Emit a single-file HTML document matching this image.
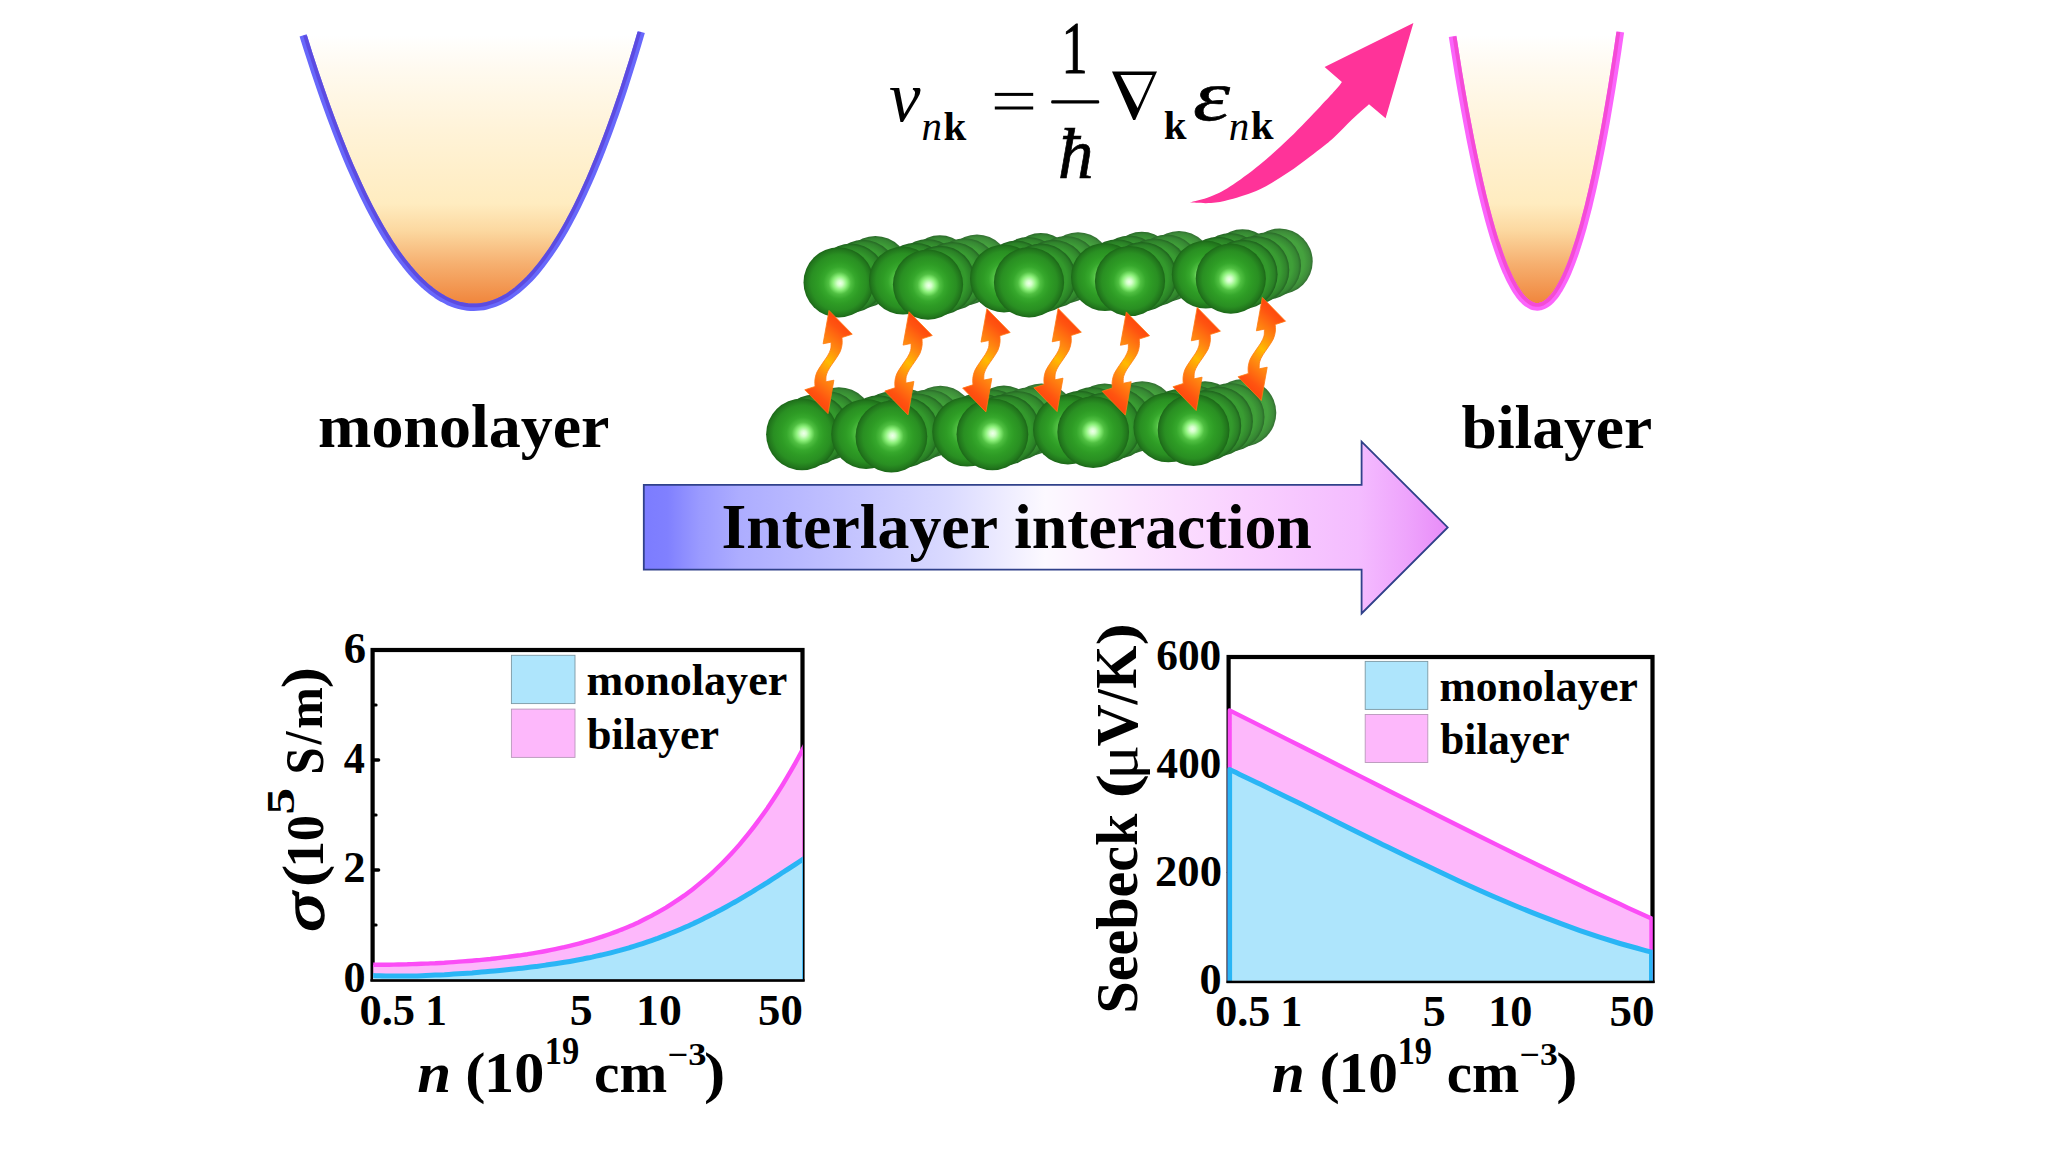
<!DOCTYPE html>
<html><head><meta charset="utf-8"><title>Interlayer interaction</title>
<style>
html,body{margin:0;padding:0;background:#fff;}
body{width:2048px;height:1152px;overflow:hidden;font-family:"Liberation Serif",serif;}
svg{display:block;position:absolute;left:0;top:0;}
text{font-family:"Liberation Serif",serif;fill:#000;font-kerning:none;}
.b{font-weight:bold;}
.i{font-style:italic;}
</style></head><body>
<svg width="2048" height="1152" viewBox="0 0 2048 1152">
<defs>
<linearGradient id="gband" x1="0" y1="35" x2="0" y2="307" gradientUnits="userSpaceOnUse">
<stop offset="0" stop-color="#ffffff"/>
<stop offset="0.12" stop-color="#fffaf0"/>
<stop offset="0.35" stop-color="#fff3d8"/>
<stop offset="0.62" stop-color="#ffecc0"/>
<stop offset="0.72" stop-color="#fcd8a0"/>
<stop offset="0.84" stop-color="#f6b070"/>
<stop offset="1" stop-color="#f08238"/>
</linearGradient>
<linearGradient id="gbig" x1="643" y1="0" x2="1447" y2="0" gradientUnits="userSpaceOnUse">
<stop offset="0" stop-color="#7c7cff"/>
<stop offset="0.03" stop-color="#8080ff"/>
<stop offset="0.07" stop-color="#9a9aff"/>
<stop offset="0.12" stop-color="#adadff"/>
<stop offset="0.25" stop-color="#c2c2ff"/>
<stop offset="0.38" stop-color="#dadaff"/>
<stop offset="0.5" stop-color="#fcf9ff"/>
<stop offset="0.62" stop-color="#fce4ff"/>
<stop offset="0.75" stop-color="#f9d0ff"/>
<stop offset="0.89" stop-color="#f4bcff"/>
<stop offset="0.95" stop-color="#eea4fc"/>
<stop offset="1" stop-color="#e88cf8"/>
</linearGradient>
<radialGradient id="gsph" cx="0.5" cy="0.5" r="0.5" fx="0.53" fy="0.51">
<stop offset="0" stop-color="#f0ffec"/>
<stop offset="0.08" stop-color="#d4ffca"/>
<stop offset="0.20" stop-color="#8cf07a"/>
<stop offset="0.32" stop-color="#50c042"/>
<stop offset="0.46" stop-color="#36a82c"/>
<stop offset="0.60" stop-color="#2e9c25"/>
<stop offset="0.80" stop-color="#298f22"/>
<stop offset="0.93" stop-color="#22781d"/>
<stop offset="1" stop-color="#1c6718"/>
</radialGradient>
<radialGradient id="gsph2" cx="0.5" cy="0.5" r="0.5" fx="0.535" fy="0.488">
<stop offset="0" stop-color="#f0ffec"/>
<stop offset="0.08" stop-color="#d4ffca"/>
<stop offset="0.20" stop-color="#8cf07a"/>
<stop offset="0.32" stop-color="#50c042"/>
<stop offset="0.46" stop-color="#36a82c"/>
<stop offset="0.60" stop-color="#2e9c25"/>
<stop offset="0.80" stop-color="#298f22"/>
<stop offset="0.93" stop-color="#22781d"/>
<stop offset="1" stop-color="#1c6718"/>
</radialGradient>
<linearGradient id="gflame" x1="-34" y1="40" x2="34" y2="-40" gradientUnits="userSpaceOnUse">
<stop offset="0" stop-color="#ff3208"/>
<stop offset="0.2" stop-color="#ff5410"/>
<stop offset="0.37" stop-color="#ff8a10"/>
<stop offset="0.5" stop-color="#ffba00"/>
<stop offset="0.63" stop-color="#ff8a10"/>
<stop offset="0.8" stop-color="#ff5410"/>
<stop offset="1" stop-color="#ff3208"/>
</linearGradient>
</defs>

<g id="bands">
<clipPath id="cpl"><path d="M303.1,35.4 C304.1,38.6 307.1,48.2 309.1,54.5 C311.1,60.7 313.1,66.8 315.1,72.9 C317.1,78.9 319.1,84.8 321.1,90.5 C323.1,96.3 325.1,102.0 327.1,107.5 C329.1,113.1 331.1,118.5 333.1,123.8 C335.1,129.2 337.1,134.4 339.1,139.4 C341.1,144.5 343.1,149.5 345.1,154.4 C347.1,159.2 349.1,164.0 351.1,168.6 C353.2,173.2 355.2,177.7 357.2,182.1 C359.2,186.5 361.2,190.8 363.2,194.9 C365.3,199.1 367.3,203.1 369.3,207.1 C371.3,211.0 373.4,214.8 375.4,218.5 C377.4,222.2 379.4,225.8 381.5,229.3 C383.5,232.7 385.5,236.1 387.6,239.3 C389.6,242.6 391.6,245.7 393.7,248.7 C395.7,251.7 397.7,254.6 399.8,257.4 C401.8,260.1 403.8,262.8 405.9,265.3 C407.9,267.9 410.0,270.3 412.0,272.6 C414.1,274.9 416.1,277.1 418.1,279.2 C420.2,281.3 422.2,283.3 424.3,285.1 C426.3,287.0 428.4,288.7 430.5,290.3 C432.5,291.9 434.6,293.4 436.6,294.8 C438.7,296.2 440.7,297.5 442.8,298.6 C444.9,299.8 446.9,300.8 449.0,301.8 C451.0,302.7 453.1,303.5 455.2,304.2 C457.2,304.9 459.3,305.5 461.4,305.9 C463.4,306.4 465.5,306.7 467.6,307.0 C469.7,307.2 471.7,307.3 473.8,307.3 C475.9,307.3 478.0,307.2 480.1,306.9 C482.1,306.7 484.2,306.4 486.3,305.9 C488.4,305.4 490.4,304.8 492.5,304.1 C494.6,303.4 496.6,302.6 498.7,301.7 C500.8,300.7 502.8,299.7 504.9,298.5 C506.9,297.4 509.0,296.1 511.0,294.7 C513.1,293.3 515.1,291.7 517.2,290.1 C519.2,288.5 521.2,286.7 523.3,284.8 C525.3,283.0 527.3,281.0 529.4,278.9 C531.4,276.8 533.4,274.5 535.4,272.2 C537.4,269.8 539.5,267.4 541.5,264.8 C543.5,262.2 545.5,259.5 547.5,256.7 C549.5,253.9 551.5,251.0 553.5,248.0 C555.5,244.9 557.5,241.8 559.5,238.5 C561.5,235.2 563.5,231.8 565.5,228.3 C567.5,224.8 569.5,221.2 571.4,217.4 C573.4,213.7 575.4,209.8 577.4,205.8 C579.3,201.8 581.3,197.7 583.3,193.5 C585.2,189.3 587.2,185.0 589.2,180.5 C591.1,176.1 593.1,171.5 595.0,166.8 C597.0,162.2 598.9,157.4 600.9,152.4 C602.8,147.5 604.8,142.5 606.7,137.3 C608.7,132.2 610.6,126.9 612.5,121.5 C614.5,116.2 616.4,110.7 618.3,105.0 C620.2,99.4 622.2,93.7 624.1,87.8 C626.0,82.0 627.9,76.0 629.8,69.9 C631.8,63.8 633.7,57.6 635.6,51.3 C637.5,45.0 640.3,35.2 641.3,32.0 Z"/></clipPath><clipPath id="cpr"><path d="M1452.6,36.4 C1453.1,39.6 1454.6,49.2 1455.6,55.4 C1456.6,61.6 1457.6,67.7 1458.5,73.6 C1459.5,79.6 1460.5,85.5 1461.5,91.2 C1462.5,97.0 1463.5,102.6 1464.5,108.1 C1465.5,113.7 1466.5,119.1 1467.5,124.3 C1468.5,129.6 1469.5,134.8 1470.5,139.9 C1471.5,144.9 1472.5,149.9 1473.5,154.7 C1474.5,159.5 1475.5,164.2 1476.5,168.8 C1477.5,173.4 1478.5,177.9 1479.5,182.3 C1480.5,186.7 1481.5,190.9 1482.5,195.1 C1483.5,199.2 1484.5,203.2 1485.5,207.1 C1486.5,211.0 1487.5,214.8 1488.5,218.5 C1489.5,222.2 1490.5,225.7 1491.5,229.2 C1492.5,232.6 1493.5,236.0 1494.5,239.2 C1495.6,242.4 1496.6,245.5 1497.6,248.5 C1498.6,251.5 1499.6,254.4 1500.6,257.1 C1501.6,259.9 1502.6,262.5 1503.6,265.1 C1504.6,267.6 1505.7,270.0 1506.7,272.3 C1507.7,274.6 1508.7,276.8 1509.7,278.9 C1510.7,280.9 1511.8,282.9 1512.8,284.7 C1513.8,286.6 1514.8,288.3 1515.8,289.9 C1516.8,291.5 1517.9,293.0 1518.9,294.4 C1519.9,295.8 1520.9,297.0 1521.9,298.2 C1523.0,299.3 1524.0,300.4 1525.0,301.3 C1526.0,302.2 1527.0,303.0 1528.1,303.7 C1529.1,304.4 1530.1,305.0 1531.1,305.4 C1532.2,305.9 1533.2,306.2 1534.2,306.5 C1535.2,306.7 1536.3,306.8 1537.3,306.8 C1538.3,306.8 1539.4,306.7 1540.4,306.4 C1541.4,306.2 1542.5,305.9 1543.5,305.4 C1544.5,304.9 1545.6,304.3 1546.6,303.6 C1547.6,302.9 1548.6,302.1 1549.7,301.2 C1550.7,300.3 1551.7,299.2 1552.7,298.0 C1553.7,296.9 1554.8,295.6 1555.8,294.2 C1556.8,292.8 1557.8,291.3 1558.8,289.6 C1559.8,288.0 1560.8,286.2 1561.8,284.4 C1562.8,282.5 1563.9,280.5 1564.9,278.4 C1565.9,276.3 1566.9,274.1 1567.9,271.7 C1568.9,269.4 1569.9,266.9 1570.9,264.4 C1571.9,261.8 1572.9,259.1 1573.9,256.3 C1574.9,253.5 1575.8,250.6 1576.8,247.5 C1577.8,244.5 1578.8,241.3 1579.8,238.1 C1580.8,234.8 1581.8,231.4 1582.8,227.9 C1583.8,224.4 1584.7,220.8 1585.7,217.0 C1586.7,213.3 1587.7,209.4 1588.7,205.5 C1589.6,201.5 1590.6,197.4 1591.6,193.2 C1592.6,189.0 1593.5,184.7 1594.5,180.2 C1595.5,175.8 1596.4,171.2 1597.4,166.5 C1598.4,161.9 1599.3,157.1 1600.3,152.2 C1601.3,147.3 1602.2,142.2 1603.2,137.1 C1604.2,131.9 1605.1,126.7 1606.1,121.3 C1607.0,115.9 1608.0,110.4 1608.9,104.8 C1609.9,99.2 1610.8,93.5 1611.8,87.7 C1612.7,81.8 1613.7,75.8 1614.6,69.8 C1615.6,63.7 1616.5,57.5 1617.5,51.2 C1618.4,44.9 1619.8,35.1 1620.3,31.9 Z"/></clipPath>
<path d="M303.1,35.4 C304.1,38.6 307.1,48.2 309.1,54.5 C311.1,60.7 313.1,66.8 315.1,72.9 C317.1,78.9 319.1,84.8 321.1,90.5 C323.1,96.3 325.1,102.0 327.1,107.5 C329.1,113.1 331.1,118.5 333.1,123.8 C335.1,129.2 337.1,134.4 339.1,139.4 C341.1,144.5 343.1,149.5 345.1,154.4 C347.1,159.2 349.1,164.0 351.1,168.6 C353.2,173.2 355.2,177.7 357.2,182.1 C359.2,186.5 361.2,190.8 363.2,194.9 C365.3,199.1 367.3,203.1 369.3,207.1 C371.3,211.0 373.4,214.8 375.4,218.5 C377.4,222.2 379.4,225.8 381.5,229.3 C383.5,232.7 385.5,236.1 387.6,239.3 C389.6,242.6 391.6,245.7 393.7,248.7 C395.7,251.7 397.7,254.6 399.8,257.4 C401.8,260.1 403.8,262.8 405.9,265.3 C407.9,267.9 410.0,270.3 412.0,272.6 C414.1,274.9 416.1,277.1 418.1,279.2 C420.2,281.3 422.2,283.3 424.3,285.1 C426.3,287.0 428.4,288.7 430.5,290.3 C432.5,291.9 434.6,293.4 436.6,294.8 C438.7,296.2 440.7,297.5 442.8,298.6 C444.9,299.8 446.9,300.8 449.0,301.8 C451.0,302.7 453.1,303.5 455.2,304.2 C457.2,304.9 459.3,305.5 461.4,305.9 C463.4,306.4 465.5,306.7 467.6,307.0 C469.7,307.2 471.7,307.3 473.8,307.3 C475.9,307.3 478.0,307.2 480.1,306.9 C482.1,306.7 484.2,306.4 486.3,305.9 C488.4,305.4 490.4,304.8 492.5,304.1 C494.6,303.4 496.6,302.6 498.7,301.7 C500.8,300.7 502.8,299.7 504.9,298.5 C506.9,297.4 509.0,296.1 511.0,294.7 C513.1,293.3 515.1,291.7 517.2,290.1 C519.2,288.5 521.2,286.7 523.3,284.8 C525.3,283.0 527.3,281.0 529.4,278.9 C531.4,276.8 533.4,274.5 535.4,272.2 C537.4,269.8 539.5,267.4 541.5,264.8 C543.5,262.2 545.5,259.5 547.5,256.7 C549.5,253.9 551.5,251.0 553.5,248.0 C555.5,244.9 557.5,241.8 559.5,238.5 C561.5,235.2 563.5,231.8 565.5,228.3 C567.5,224.8 569.5,221.2 571.4,217.4 C573.4,213.7 575.4,209.8 577.4,205.8 C579.3,201.8 581.3,197.7 583.3,193.5 C585.2,189.3 587.2,185.0 589.2,180.5 C591.1,176.1 593.1,171.5 595.0,166.8 C597.0,162.2 598.9,157.4 600.9,152.4 C602.8,147.5 604.8,142.5 606.7,137.3 C608.7,132.2 610.6,126.9 612.5,121.5 C614.5,116.2 616.4,110.7 618.3,105.0 C620.2,99.4 622.2,93.7 624.1,87.8 C626.0,82.0 627.9,76.0 629.8,69.9 C631.8,63.8 633.7,57.6 635.6,51.3 C637.5,45.0 640.3,35.2 641.3,32.0 Z" fill="url(#gband)"/>
<path d="M303.1,35.4 C304.1,38.6 307.1,48.2 309.1,54.5 C311.1,60.7 313.1,66.8 315.1,72.9 C317.1,78.9 319.1,84.8 321.1,90.5 C323.1,96.3 325.1,102.0 327.1,107.5 C329.1,113.1 331.1,118.5 333.1,123.8 C335.1,129.2 337.1,134.4 339.1,139.4 C341.1,144.5 343.1,149.5 345.1,154.4 C347.1,159.2 349.1,164.0 351.1,168.6 C353.2,173.2 355.2,177.7 357.2,182.1 C359.2,186.5 361.2,190.8 363.2,194.9 C365.3,199.1 367.3,203.1 369.3,207.1 C371.3,211.0 373.4,214.8 375.4,218.5 C377.4,222.2 379.4,225.8 381.5,229.3 C383.5,232.7 385.5,236.1 387.6,239.3 C389.6,242.6 391.6,245.7 393.7,248.7 C395.7,251.7 397.7,254.6 399.8,257.4 C401.8,260.1 403.8,262.8 405.9,265.3 C407.9,267.9 410.0,270.3 412.0,272.6 C414.1,274.9 416.1,277.1 418.1,279.2 C420.2,281.3 422.2,283.3 424.3,285.1 C426.3,287.0 428.4,288.7 430.5,290.3 C432.5,291.9 434.6,293.4 436.6,294.8 C438.7,296.2 440.7,297.5 442.8,298.6 C444.9,299.8 446.9,300.8 449.0,301.8 C451.0,302.7 453.1,303.5 455.2,304.2 C457.2,304.9 459.3,305.5 461.4,305.9 C463.4,306.4 465.5,306.7 467.6,307.0 C469.7,307.2 471.7,307.3 473.8,307.3 C475.9,307.3 478.0,307.2 480.1,306.9 C482.1,306.7 484.2,306.4 486.3,305.9 C488.4,305.4 490.4,304.8 492.5,304.1 C494.6,303.4 496.6,302.6 498.7,301.7 C500.8,300.7 502.8,299.7 504.9,298.5 C506.9,297.4 509.0,296.1 511.0,294.7 C513.1,293.3 515.1,291.7 517.2,290.1 C519.2,288.5 521.2,286.7 523.3,284.8 C525.3,283.0 527.3,281.0 529.4,278.9 C531.4,276.8 533.4,274.5 535.4,272.2 C537.4,269.8 539.5,267.4 541.5,264.8 C543.5,262.2 545.5,259.5 547.5,256.7 C549.5,253.9 551.5,251.0 553.5,248.0 C555.5,244.9 557.5,241.8 559.5,238.5 C561.5,235.2 563.5,231.8 565.5,228.3 C567.5,224.8 569.5,221.2 571.4,217.4 C573.4,213.7 575.4,209.8 577.4,205.8 C579.3,201.8 581.3,197.7 583.3,193.5 C585.2,189.3 587.2,185.0 589.2,180.5 C591.1,176.1 593.1,171.5 595.0,166.8 C597.0,162.2 598.9,157.4 600.9,152.4 C602.8,147.5 604.8,142.5 606.7,137.3 C608.7,132.2 610.6,126.9 612.5,121.5 C614.5,116.2 616.4,110.7 618.3,105.0 C620.2,99.4 622.2,93.7 624.1,87.8 C626.0,82.0 627.9,76.0 629.8,69.9 C631.8,63.8 633.7,57.6 635.6,51.3 C637.5,45.0 640.3,35.2 641.3,32.0" fill="none" stroke="#6868fb" stroke-width="7.4" stroke-linejoin="round"/>
<path d="M303.1,35.4 C304.1,38.6 307.1,48.2 309.1,54.5 C311.1,60.7 313.1,66.8 315.1,72.9 C317.1,78.9 319.1,84.8 321.1,90.5 C323.1,96.3 325.1,102.0 327.1,107.5 C329.1,113.1 331.1,118.5 333.1,123.8 C335.1,129.2 337.1,134.4 339.1,139.4 C341.1,144.5 343.1,149.5 345.1,154.4 C347.1,159.2 349.1,164.0 351.1,168.6 C353.2,173.2 355.2,177.7 357.2,182.1 C359.2,186.5 361.2,190.8 363.2,194.9 C365.3,199.1 367.3,203.1 369.3,207.1 C371.3,211.0 373.4,214.8 375.4,218.5 C377.4,222.2 379.4,225.8 381.5,229.3 C383.5,232.7 385.5,236.1 387.6,239.3 C389.6,242.6 391.6,245.7 393.7,248.7 C395.7,251.7 397.7,254.6 399.8,257.4 C401.8,260.1 403.8,262.8 405.9,265.3 C407.9,267.9 410.0,270.3 412.0,272.6 C414.1,274.9 416.1,277.1 418.1,279.2 C420.2,281.3 422.2,283.3 424.3,285.1 C426.3,287.0 428.4,288.7 430.5,290.3 C432.5,291.9 434.6,293.4 436.6,294.8 C438.7,296.2 440.7,297.5 442.8,298.6 C444.9,299.8 446.9,300.8 449.0,301.8 C451.0,302.7 453.1,303.5 455.2,304.2 C457.2,304.9 459.3,305.5 461.4,305.9 C463.4,306.4 465.5,306.7 467.6,307.0 C469.7,307.2 471.7,307.3 473.8,307.3 C475.9,307.3 478.0,307.2 480.1,306.9 C482.1,306.7 484.2,306.4 486.3,305.9 C488.4,305.4 490.4,304.8 492.5,304.1 C494.6,303.4 496.6,302.6 498.7,301.7 C500.8,300.7 502.8,299.7 504.9,298.5 C506.9,297.4 509.0,296.1 511.0,294.7 C513.1,293.3 515.1,291.7 517.2,290.1 C519.2,288.5 521.2,286.7 523.3,284.8 C525.3,283.0 527.3,281.0 529.4,278.9 C531.4,276.8 533.4,274.5 535.4,272.2 C537.4,269.8 539.5,267.4 541.5,264.8 C543.5,262.2 545.5,259.5 547.5,256.7 C549.5,253.9 551.5,251.0 553.5,248.0 C555.5,244.9 557.5,241.8 559.5,238.5 C561.5,235.2 563.5,231.8 565.5,228.3 C567.5,224.8 569.5,221.2 571.4,217.4 C573.4,213.7 575.4,209.8 577.4,205.8 C579.3,201.8 581.3,197.7 583.3,193.5 C585.2,189.3 587.2,185.0 589.2,180.5 C591.1,176.1 593.1,171.5 595.0,166.8 C597.0,162.2 598.9,157.4 600.9,152.4 C602.8,147.5 604.8,142.5 606.7,137.3 C608.7,132.2 610.6,126.9 612.5,121.5 C614.5,116.2 616.4,110.7 618.3,105.0 C620.2,99.4 622.2,93.7 624.1,87.8 C626.0,82.0 627.9,76.0 629.8,69.9 C631.8,63.8 633.7,57.6 635.6,51.3 C637.5,45.0 640.3,35.2 641.3,32.0" fill="none" stroke="#5b47da" stroke-width="7.4" stroke-linejoin="round" clip-path="url(#cpl)" opacity="0.85"/>
<path d="M1452.6,36.4 C1453.1,39.6 1454.6,49.2 1455.6,55.4 C1456.6,61.6 1457.6,67.7 1458.5,73.6 C1459.5,79.6 1460.5,85.5 1461.5,91.2 C1462.5,97.0 1463.5,102.6 1464.5,108.1 C1465.5,113.7 1466.5,119.1 1467.5,124.3 C1468.5,129.6 1469.5,134.8 1470.5,139.9 C1471.5,144.9 1472.5,149.9 1473.5,154.7 C1474.5,159.5 1475.5,164.2 1476.5,168.8 C1477.5,173.4 1478.5,177.9 1479.5,182.3 C1480.5,186.7 1481.5,190.9 1482.5,195.1 C1483.5,199.2 1484.5,203.2 1485.5,207.1 C1486.5,211.0 1487.5,214.8 1488.5,218.5 C1489.5,222.2 1490.5,225.7 1491.5,229.2 C1492.5,232.6 1493.5,236.0 1494.5,239.2 C1495.6,242.4 1496.6,245.5 1497.6,248.5 C1498.6,251.5 1499.6,254.4 1500.6,257.1 C1501.6,259.9 1502.6,262.5 1503.6,265.1 C1504.6,267.6 1505.7,270.0 1506.7,272.3 C1507.7,274.6 1508.7,276.8 1509.7,278.9 C1510.7,280.9 1511.8,282.9 1512.8,284.7 C1513.8,286.6 1514.8,288.3 1515.8,289.9 C1516.8,291.5 1517.9,293.0 1518.9,294.4 C1519.9,295.8 1520.9,297.0 1521.9,298.2 C1523.0,299.3 1524.0,300.4 1525.0,301.3 C1526.0,302.2 1527.0,303.0 1528.1,303.7 C1529.1,304.4 1530.1,305.0 1531.1,305.4 C1532.2,305.9 1533.2,306.2 1534.2,306.5 C1535.2,306.7 1536.3,306.8 1537.3,306.8 C1538.3,306.8 1539.4,306.7 1540.4,306.4 C1541.4,306.2 1542.5,305.9 1543.5,305.4 C1544.5,304.9 1545.6,304.3 1546.6,303.6 C1547.6,302.9 1548.6,302.1 1549.7,301.2 C1550.7,300.3 1551.7,299.2 1552.7,298.0 C1553.7,296.9 1554.8,295.6 1555.8,294.2 C1556.8,292.8 1557.8,291.3 1558.8,289.6 C1559.8,288.0 1560.8,286.2 1561.8,284.4 C1562.8,282.5 1563.9,280.5 1564.9,278.4 C1565.9,276.3 1566.9,274.1 1567.9,271.7 C1568.9,269.4 1569.9,266.9 1570.9,264.4 C1571.9,261.8 1572.9,259.1 1573.9,256.3 C1574.9,253.5 1575.8,250.6 1576.8,247.5 C1577.8,244.5 1578.8,241.3 1579.8,238.1 C1580.8,234.8 1581.8,231.4 1582.8,227.9 C1583.8,224.4 1584.7,220.8 1585.7,217.0 C1586.7,213.3 1587.7,209.4 1588.7,205.5 C1589.6,201.5 1590.6,197.4 1591.6,193.2 C1592.6,189.0 1593.5,184.7 1594.5,180.2 C1595.5,175.8 1596.4,171.2 1597.4,166.5 C1598.4,161.9 1599.3,157.1 1600.3,152.2 C1601.3,147.3 1602.2,142.2 1603.2,137.1 C1604.2,131.9 1605.1,126.7 1606.1,121.3 C1607.0,115.9 1608.0,110.4 1608.9,104.8 C1609.9,99.2 1610.8,93.5 1611.8,87.7 C1612.7,81.8 1613.7,75.8 1614.6,69.8 C1615.6,63.7 1616.5,57.5 1617.5,51.2 C1618.4,44.9 1619.8,35.1 1620.3,31.9 Z" fill="url(#gband)"/>
<path d="M1452.6,36.4 C1453.1,39.6 1454.6,49.2 1455.6,55.4 C1456.6,61.6 1457.6,67.7 1458.5,73.6 C1459.5,79.6 1460.5,85.5 1461.5,91.2 C1462.5,97.0 1463.5,102.6 1464.5,108.1 C1465.5,113.7 1466.5,119.1 1467.5,124.3 C1468.5,129.6 1469.5,134.8 1470.5,139.9 C1471.5,144.9 1472.5,149.9 1473.5,154.7 C1474.5,159.5 1475.5,164.2 1476.5,168.8 C1477.5,173.4 1478.5,177.9 1479.5,182.3 C1480.5,186.7 1481.5,190.9 1482.5,195.1 C1483.5,199.2 1484.5,203.2 1485.5,207.1 C1486.5,211.0 1487.5,214.8 1488.5,218.5 C1489.5,222.2 1490.5,225.7 1491.5,229.2 C1492.5,232.6 1493.5,236.0 1494.5,239.2 C1495.6,242.4 1496.6,245.5 1497.6,248.5 C1498.6,251.5 1499.6,254.4 1500.6,257.1 C1501.6,259.9 1502.6,262.5 1503.6,265.1 C1504.6,267.6 1505.7,270.0 1506.7,272.3 C1507.7,274.6 1508.7,276.8 1509.7,278.9 C1510.7,280.9 1511.8,282.9 1512.8,284.7 C1513.8,286.6 1514.8,288.3 1515.8,289.9 C1516.8,291.5 1517.9,293.0 1518.9,294.4 C1519.9,295.8 1520.9,297.0 1521.9,298.2 C1523.0,299.3 1524.0,300.4 1525.0,301.3 C1526.0,302.2 1527.0,303.0 1528.1,303.7 C1529.1,304.4 1530.1,305.0 1531.1,305.4 C1532.2,305.9 1533.2,306.2 1534.2,306.5 C1535.2,306.7 1536.3,306.8 1537.3,306.8 C1538.3,306.8 1539.4,306.7 1540.4,306.4 C1541.4,306.2 1542.5,305.9 1543.5,305.4 C1544.5,304.9 1545.6,304.3 1546.6,303.6 C1547.6,302.9 1548.6,302.1 1549.7,301.2 C1550.7,300.3 1551.7,299.2 1552.7,298.0 C1553.7,296.9 1554.8,295.6 1555.8,294.2 C1556.8,292.8 1557.8,291.3 1558.8,289.6 C1559.8,288.0 1560.8,286.2 1561.8,284.4 C1562.8,282.5 1563.9,280.5 1564.9,278.4 C1565.9,276.3 1566.9,274.1 1567.9,271.7 C1568.9,269.4 1569.9,266.9 1570.9,264.4 C1571.9,261.8 1572.9,259.1 1573.9,256.3 C1574.9,253.5 1575.8,250.6 1576.8,247.5 C1577.8,244.5 1578.8,241.3 1579.8,238.1 C1580.8,234.8 1581.8,231.4 1582.8,227.9 C1583.8,224.4 1584.7,220.8 1585.7,217.0 C1586.7,213.3 1587.7,209.4 1588.7,205.5 C1589.6,201.5 1590.6,197.4 1591.6,193.2 C1592.6,189.0 1593.5,184.7 1594.5,180.2 C1595.5,175.8 1596.4,171.2 1597.4,166.5 C1598.4,161.9 1599.3,157.1 1600.3,152.2 C1601.3,147.3 1602.2,142.2 1603.2,137.1 C1604.2,131.9 1605.1,126.7 1606.1,121.3 C1607.0,115.9 1608.0,110.4 1608.9,104.8 C1609.9,99.2 1610.8,93.5 1611.8,87.7 C1612.7,81.8 1613.7,75.8 1614.6,69.8 C1615.6,63.7 1616.5,57.5 1617.5,51.2 C1618.4,44.9 1619.8,35.1 1620.3,31.9" fill="none" stroke="#fb64fb" stroke-width="7.7" stroke-linejoin="round"/>
<path d="M1452.6,36.4 C1453.1,39.6 1454.6,49.2 1455.6,55.4 C1456.6,61.6 1457.6,67.7 1458.5,73.6 C1459.5,79.6 1460.5,85.5 1461.5,91.2 C1462.5,97.0 1463.5,102.6 1464.5,108.1 C1465.5,113.7 1466.5,119.1 1467.5,124.3 C1468.5,129.6 1469.5,134.8 1470.5,139.9 C1471.5,144.9 1472.5,149.9 1473.5,154.7 C1474.5,159.5 1475.5,164.2 1476.5,168.8 C1477.5,173.4 1478.5,177.9 1479.5,182.3 C1480.5,186.7 1481.5,190.9 1482.5,195.1 C1483.5,199.2 1484.5,203.2 1485.5,207.1 C1486.5,211.0 1487.5,214.8 1488.5,218.5 C1489.5,222.2 1490.5,225.7 1491.5,229.2 C1492.5,232.6 1493.5,236.0 1494.5,239.2 C1495.6,242.4 1496.6,245.5 1497.6,248.5 C1498.6,251.5 1499.6,254.4 1500.6,257.1 C1501.6,259.9 1502.6,262.5 1503.6,265.1 C1504.6,267.6 1505.7,270.0 1506.7,272.3 C1507.7,274.6 1508.7,276.8 1509.7,278.9 C1510.7,280.9 1511.8,282.9 1512.8,284.7 C1513.8,286.6 1514.8,288.3 1515.8,289.9 C1516.8,291.5 1517.9,293.0 1518.9,294.4 C1519.9,295.8 1520.9,297.0 1521.9,298.2 C1523.0,299.3 1524.0,300.4 1525.0,301.3 C1526.0,302.2 1527.0,303.0 1528.1,303.7 C1529.1,304.4 1530.1,305.0 1531.1,305.4 C1532.2,305.9 1533.2,306.2 1534.2,306.5 C1535.2,306.7 1536.3,306.8 1537.3,306.8 C1538.3,306.8 1539.4,306.7 1540.4,306.4 C1541.4,306.2 1542.5,305.9 1543.5,305.4 C1544.5,304.9 1545.6,304.3 1546.6,303.6 C1547.6,302.9 1548.6,302.1 1549.7,301.2 C1550.7,300.3 1551.7,299.2 1552.7,298.0 C1553.7,296.9 1554.8,295.6 1555.8,294.2 C1556.8,292.8 1557.8,291.3 1558.8,289.6 C1559.8,288.0 1560.8,286.2 1561.8,284.4 C1562.8,282.5 1563.9,280.5 1564.9,278.4 C1565.9,276.3 1566.9,274.1 1567.9,271.7 C1568.9,269.4 1569.9,266.9 1570.9,264.4 C1571.9,261.8 1572.9,259.1 1573.9,256.3 C1574.9,253.5 1575.8,250.6 1576.8,247.5 C1577.8,244.5 1578.8,241.3 1579.8,238.1 C1580.8,234.8 1581.8,231.4 1582.8,227.9 C1583.8,224.4 1584.7,220.8 1585.7,217.0 C1586.7,213.3 1587.7,209.4 1588.7,205.5 C1589.6,201.5 1590.6,197.4 1591.6,193.2 C1592.6,189.0 1593.5,184.7 1594.5,180.2 C1595.5,175.8 1596.4,171.2 1597.4,166.5 C1598.4,161.9 1599.3,157.1 1600.3,152.2 C1601.3,147.3 1602.2,142.2 1603.2,137.1 C1604.2,131.9 1605.1,126.7 1606.1,121.3 C1607.0,115.9 1608.0,110.4 1608.9,104.8 C1609.9,99.2 1610.8,93.5 1611.8,87.7 C1612.7,81.8 1613.7,75.8 1614.6,69.8 C1615.6,63.7 1616.5,57.5 1617.5,51.2 C1618.4,44.9 1619.8,35.1 1620.3,31.9" fill="none" stroke="#f246cf" stroke-width="7.7" stroke-linejoin="round" clip-path="url(#cpr)" opacity="0.85"/>
</g>
<text class="b" transform="translate(318.08,447.30) scale(1.0273,1.0000)" font-size="62.30">monolayer</text>
<text class="b" transform="translate(1461.59,447.50) scale(1.0204,1.0000)" font-size="62.30">bilayer</text>
<path d="M1189.5,202.6 C1192.9,201.6 1203.2,199.5 1210.0,196.8 C1216.8,194.1 1221.7,191.9 1230.0,186.5 C1238.3,181.1 1250.0,172.6 1260.0,164.4 C1270.0,156.2 1280.0,147.2 1290.0,137.6 C1300.0,128.0 1312.5,114.5 1320.0,106.7 C1327.5,98.9 1331.3,94.7 1335.0,90.6 C1338.7,86.5 1340.8,83.4 1341.9,81.9 L1324.6,66.9 L1413.4,23.1 L1385.6,118.3 L1369.0,104.2 C1366.2,106.8 1357.7,114.1 1352.0,119.5 C1346.3,124.9 1340.3,131.5 1335.0,136.4 C1329.7,141.3 1327.5,143.1 1320.0,148.9 C1312.5,154.7 1300.0,164.5 1290.0,171.2 C1280.0,177.9 1270.0,184.5 1260.0,189.2 C1250.0,193.9 1238.2,197.3 1230.0,199.6 C1221.8,201.9 1217.8,202.5 1211.0,203.0 C1204.2,203.5 1193.1,202.7 1189.5,202.6 Z" fill="#ff3399"/>
<path d="M643.8,484.9 L1361.6,484.9 L1361.6,441.6 L1447.7,527.4 L1361.6,613.5 L1361.6,569.7 L643.8,569.7 Z" fill="url(#gbig)" stroke="#30418a" stroke-width="1.8" stroke-linejoin="miter"/>
<text class="b" transform="translate(721.45,547.50) scale(1.0201,1.0000)" font-size="62.60">Interlayer interaction</text>
<defs><radialGradient id="gb1" cx="0.5" cy="0.5" r="0.5"><stop offset="0" stop-color="#33992c"/><stop offset="0.74" stop-color="#33992c"/><stop offset="0.92" stop-color="#2a8026"/><stop offset="1" stop-color="#1e611d"/></radialGradient><radialGradient id="gb2" cx="0.5" cy="0.5" r="0.5"><stop offset="0" stop-color="#399c32"/><stop offset="0.74" stop-color="#399c32"/><stop offset="0.92" stop-color="#30832c"/><stop offset="1" stop-color="#256524"/></radialGradient><radialGradient id="gb3" cx="0.5" cy="0.5" r="0.5"><stop offset="0" stop-color="#3f9f38"/><stop offset="0.74" stop-color="#3f9f38"/><stop offset="0.92" stop-color="#368733"/><stop offset="1" stop-color="#2b6a2a"/></radialGradient><radialGradient id="gb4" cx="0.5" cy="0.5" r="0.5"><stop offset="0" stop-color="#45a23e"/><stop offset="0.74" stop-color="#45a23e"/><stop offset="0.92" stop-color="#3d8b39"/><stop offset="1" stop-color="#326e31"/></radialGradient><radialGradient id="gb5" cx="0.5" cy="0.5" r="0.5"><stop offset="0" stop-color="#4aa544"/><stop offset="0.74" stop-color="#4aa544"/><stop offset="0.92" stop-color="#438e3f"/><stop offset="1" stop-color="#387337"/></radialGradient></defs>
<g id="atoms-bot">
<defs><radialGradient id="gs1" cx="0.5" cy="0.5" r="0.5" fx="0.5260" fy="0.4872"><stop offset="0" stop-color="#f0ffec"/><stop offset="0.08" stop-color="#d4ffca"/><stop offset="0.20" stop-color="#8cf07a"/><stop offset="0.32" stop-color="#50c042"/><stop offset="0.46" stop-color="#36a82c"/><stop offset="0.60" stop-color="#2e9c25"/><stop offset="0.80" stop-color="#298f22"/><stop offset="0.93" stop-color="#22781d"/><stop offset="1" stop-color="#1c6718"/></radialGradient><radialGradient id="gs2" cx="0.5" cy="0.5" r="0.5" fx="0.5194" fy="0.4869"><stop offset="0" stop-color="#f0ffec"/><stop offset="0.08" stop-color="#d4ffca"/><stop offset="0.20" stop-color="#8cf07a"/><stop offset="0.32" stop-color="#50c042"/><stop offset="0.46" stop-color="#36a82c"/><stop offset="0.60" stop-color="#2e9c25"/><stop offset="0.80" stop-color="#298f22"/><stop offset="0.93" stop-color="#22781d"/><stop offset="1" stop-color="#1c6718"/></radialGradient><radialGradient id="gs3" cx="0.5" cy="0.5" r="0.5" fx="0.5160" fy="0.4869"><stop offset="0" stop-color="#f0ffec"/><stop offset="0.08" stop-color="#d4ffca"/><stop offset="0.20" stop-color="#8cf07a"/><stop offset="0.32" stop-color="#50c042"/><stop offset="0.46" stop-color="#36a82c"/><stop offset="0.60" stop-color="#2e9c25"/><stop offset="0.80" stop-color="#298f22"/><stop offset="0.93" stop-color="#22781d"/><stop offset="1" stop-color="#1c6718"/></radialGradient><radialGradient id="gs4" cx="0.5" cy="0.5" r="0.5" fx="0.5078" fy="0.4873"><stop offset="0" stop-color="#f0ffec"/><stop offset="0.08" stop-color="#d4ffca"/><stop offset="0.20" stop-color="#8cf07a"/><stop offset="0.32" stop-color="#50c042"/><stop offset="0.46" stop-color="#36a82c"/><stop offset="0.60" stop-color="#2e9c25"/><stop offset="0.80" stop-color="#298f22"/><stop offset="0.93" stop-color="#22781d"/><stop offset="1" stop-color="#1c6718"/></radialGradient><radialGradient id="gs5" cx="0.5" cy="0.5" r="0.5" fx="0.5047" fy="0.4872"><stop offset="0" stop-color="#f0ffec"/><stop offset="0.08" stop-color="#d4ffca"/><stop offset="0.20" stop-color="#8cf07a"/><stop offset="0.32" stop-color="#50c042"/><stop offset="0.46" stop-color="#36a82c"/><stop offset="0.60" stop-color="#2e9c25"/><stop offset="0.80" stop-color="#298f22"/><stop offset="0.93" stop-color="#22781d"/><stop offset="1" stop-color="#1c6718"/></radialGradient><radialGradient id="gs6" cx="0.5" cy="0.5" r="0.5" fx="0.4962" fy="0.4877"><stop offset="0" stop-color="#f0ffec"/><stop offset="0.08" stop-color="#d4ffca"/><stop offset="0.20" stop-color="#8cf07a"/><stop offset="0.32" stop-color="#50c042"/><stop offset="0.46" stop-color="#36a82c"/><stop offset="0.60" stop-color="#2e9c25"/><stop offset="0.80" stop-color="#298f22"/><stop offset="0.93" stop-color="#22781d"/><stop offset="1" stop-color="#1c6718"/></radialGradient><radialGradient id="gs7" cx="0.5" cy="0.5" r="0.5" fx="0.4935" fy="0.4876"><stop offset="0" stop-color="#f0ffec"/><stop offset="0.08" stop-color="#d4ffca"/><stop offset="0.20" stop-color="#8cf07a"/><stop offset="0.32" stop-color="#50c042"/><stop offset="0.46" stop-color="#36a82c"/><stop offset="0.60" stop-color="#2e9c25"/><stop offset="0.80" stop-color="#298f22"/><stop offset="0.93" stop-color="#22781d"/><stop offset="1" stop-color="#1c6718"/></radialGradient><radialGradient id="gs8" cx="0.5" cy="0.5" r="0.5" fx="0.4847" fy="0.4881"><stop offset="0" stop-color="#f0ffec"/><stop offset="0.08" stop-color="#d4ffca"/><stop offset="0.20" stop-color="#8cf07a"/><stop offset="0.32" stop-color="#50c042"/><stop offset="0.46" stop-color="#36a82c"/><stop offset="0.60" stop-color="#2e9c25"/><stop offset="0.80" stop-color="#298f22"/><stop offset="0.93" stop-color="#22781d"/><stop offset="1" stop-color="#1c6718"/></radialGradient><radialGradient id="gs9" cx="0.5" cy="0.5" r="0.5" fx="0.4823" fy="0.4880"><stop offset="0" stop-color="#f0ffec"/><stop offset="0.08" stop-color="#d4ffca"/><stop offset="0.20" stop-color="#8cf07a"/><stop offset="0.32" stop-color="#50c042"/><stop offset="0.46" stop-color="#36a82c"/><stop offset="0.60" stop-color="#2e9c25"/><stop offset="0.80" stop-color="#298f22"/><stop offset="0.93" stop-color="#22781d"/><stop offset="1" stop-color="#1c6718"/></radialGradient></defs>
<circle cx="940.4" cy="419.4" r="33.7" fill="url(#gb4)"/>
<circle cx="1041.4" cy="417.1" r="33.7" fill="url(#gb4)"/>
<circle cx="1142.2" cy="414.9" r="33.7" fill="url(#gb4)"/>
<circle cx="1242.6" cy="412.8" r="33.7" fill="url(#gb4)"/>
<circle cx="838.8" cy="421.4" r="34.2" fill="url(#gb3)"/>
<circle cx="902.9" cy="421.1" r="33.2" fill="url(#gb3)"/>
<circle cx="928.1" cy="423.7" r="34.2" fill="url(#gb3)"/>
<circle cx="1003.9" cy="418.8" r="33.2" fill="url(#gb3)"/>
<circle cx="1029.2" cy="421.4" r="34.2" fill="url(#gb3)"/>
<circle cx="1104.7" cy="416.6" r="33.2" fill="url(#gb3)"/>
<circle cx="1130.0" cy="419.2" r="34.2" fill="url(#gb3)"/>
<circle cx="1205.0" cy="414.5" r="33.2" fill="url(#gb3)"/>
<circle cx="1230.3" cy="417.1" r="34.2" fill="url(#gb3)"/>
<circle cx="826.5" cy="425.7" r="34.8" fill="url(#gb2)"/>
<circle cx="890.6" cy="425.4" r="33.8" fill="url(#gb2)"/>
<circle cx="915.9" cy="428.0" r="34.8" fill="url(#gb2)"/>
<circle cx="991.6" cy="423.1" r="33.8" fill="url(#gb2)"/>
<circle cx="1016.9" cy="425.7" r="34.8" fill="url(#gb2)"/>
<circle cx="1092.4" cy="420.9" r="33.8" fill="url(#gb2)"/>
<circle cx="1117.7" cy="423.5" r="34.8" fill="url(#gb2)"/>
<circle cx="1192.8" cy="418.8" r="33.8" fill="url(#gb2)"/>
<circle cx="1218.1" cy="421.4" r="34.8" fill="url(#gb2)"/>
<circle cx="814.2" cy="430.0" r="35.4" fill="url(#gb1)"/>
<circle cx="878.4" cy="429.7" r="34.4" fill="url(#gb1)"/>
<circle cx="903.6" cy="432.3" r="35.4" fill="url(#gb1)"/>
<circle cx="979.4" cy="427.4" r="34.4" fill="url(#gb1)"/>
<circle cx="1004.6" cy="430.0" r="35.4" fill="url(#gb1)"/>
<circle cx="1080.2" cy="425.2" r="34.4" fill="url(#gb1)"/>
<circle cx="1105.5" cy="427.8" r="35.4" fill="url(#gb1)"/>
<circle cx="1180.5" cy="423.1" r="34.4" fill="url(#gb1)"/>
<circle cx="1205.8" cy="425.7" r="35.4" fill="url(#gb1)"/>
<circle cx="802.0" cy="434.3" r="35.9" fill="url(#gs1)"/>
<circle cx="866.1" cy="434.0" r="34.9" fill="url(#gs2)"/>
<circle cx="891.4" cy="436.6" r="35.9" fill="url(#gs3)"/>
<circle cx="967.1" cy="431.7" r="34.9" fill="url(#gs4)"/>
<circle cx="992.4" cy="434.3" r="35.9" fill="url(#gs5)"/>
<circle cx="1067.9" cy="429.5" r="34.9" fill="url(#gs6)"/>
<circle cx="1093.2" cy="432.1" r="35.9" fill="url(#gs7)"/>
<circle cx="1168.3" cy="427.4" r="34.9" fill="url(#gs8)"/>
<circle cx="1193.6" cy="430.0" r="35.9" fill="url(#gs9)"/>
</g>
<g id="atoms-top">
<defs><radialGradient id="gs10" cx="0.5" cy="0.5" r="0.5" fx="0.5224" fy="0.5129"><stop offset="0" stop-color="#f0ffec"/><stop offset="0.08" stop-color="#d4ffca"/><stop offset="0.20" stop-color="#8cf07a"/><stop offset="0.32" stop-color="#50c042"/><stop offset="0.46" stop-color="#36a82c"/><stop offset="0.60" stop-color="#2e9c25"/><stop offset="0.80" stop-color="#298f22"/><stop offset="0.93" stop-color="#22781d"/><stop offset="1" stop-color="#1c6718"/></radialGradient><radialGradient id="gs11" cx="0.5" cy="0.5" r="0.5" fx="0.5155" fy="0.5137"><stop offset="0" stop-color="#f0ffec"/><stop offset="0.08" stop-color="#d4ffca"/><stop offset="0.20" stop-color="#8cf07a"/><stop offset="0.32" stop-color="#50c042"/><stop offset="0.46" stop-color="#36a82c"/><stop offset="0.60" stop-color="#2e9c25"/><stop offset="0.80" stop-color="#298f22"/><stop offset="0.93" stop-color="#22781d"/><stop offset="1" stop-color="#1c6718"/></radialGradient><radialGradient id="gs12" cx="0.5" cy="0.5" r="0.5" fx="0.5122" fy="0.5125"><stop offset="0" stop-color="#f0ffec"/><stop offset="0.08" stop-color="#d4ffca"/><stop offset="0.20" stop-color="#8cf07a"/><stop offset="0.32" stop-color="#50c042"/><stop offset="0.46" stop-color="#36a82c"/><stop offset="0.60" stop-color="#2e9c25"/><stop offset="0.80" stop-color="#298f22"/><stop offset="0.93" stop-color="#22781d"/><stop offset="1" stop-color="#1c6718"/></radialGradient><radialGradient id="gs13" cx="0.5" cy="0.5" r="0.5" fx="0.5036" fy="0.5140"><stop offset="0" stop-color="#f0ffec"/><stop offset="0.08" stop-color="#d4ffca"/><stop offset="0.20" stop-color="#8cf07a"/><stop offset="0.32" stop-color="#50c042"/><stop offset="0.46" stop-color="#36a82c"/><stop offset="0.60" stop-color="#2e9c25"/><stop offset="0.80" stop-color="#298f22"/><stop offset="0.93" stop-color="#22781d"/><stop offset="1" stop-color="#1c6718"/></radialGradient><radialGradient id="gs14" cx="0.5" cy="0.5" r="0.5" fx="0.5007" fy="0.5129"><stop offset="0" stop-color="#f0ffec"/><stop offset="0.08" stop-color="#d4ffca"/><stop offset="0.20" stop-color="#8cf07a"/><stop offset="0.32" stop-color="#50c042"/><stop offset="0.46" stop-color="#36a82c"/><stop offset="0.60" stop-color="#2e9c25"/><stop offset="0.80" stop-color="#298f22"/><stop offset="0.93" stop-color="#22781d"/><stop offset="1" stop-color="#1c6718"/></radialGradient><radialGradient id="gs15" cx="0.5" cy="0.5" r="0.5" fx="0.4918" fy="0.5143"><stop offset="0" stop-color="#f0ffec"/><stop offset="0.08" stop-color="#d4ffca"/><stop offset="0.20" stop-color="#8cf07a"/><stop offset="0.32" stop-color="#50c042"/><stop offset="0.46" stop-color="#36a82c"/><stop offset="0.60" stop-color="#2e9c25"/><stop offset="0.80" stop-color="#298f22"/><stop offset="0.93" stop-color="#22781d"/><stop offset="1" stop-color="#1c6718"/></radialGradient><radialGradient id="gs16" cx="0.5" cy="0.5" r="0.5" fx="0.4892" fy="0.5132"><stop offset="0" stop-color="#f0ffec"/><stop offset="0.08" stop-color="#d4ffca"/><stop offset="0.20" stop-color="#8cf07a"/><stop offset="0.32" stop-color="#50c042"/><stop offset="0.46" stop-color="#36a82c"/><stop offset="0.60" stop-color="#2e9c25"/><stop offset="0.80" stop-color="#298f22"/><stop offset="0.93" stop-color="#22781d"/><stop offset="1" stop-color="#1c6718"/></radialGradient><radialGradient id="gs17" cx="0.5" cy="0.5" r="0.5" fx="0.4799" fy="0.5147"><stop offset="0" stop-color="#f0ffec"/><stop offset="0.08" stop-color="#d4ffca"/><stop offset="0.20" stop-color="#8cf07a"/><stop offset="0.32" stop-color="#50c042"/><stop offset="0.46" stop-color="#36a82c"/><stop offset="0.60" stop-color="#2e9c25"/><stop offset="0.80" stop-color="#298f22"/><stop offset="0.93" stop-color="#22781d"/><stop offset="1" stop-color="#1c6718"/></radialGradient><radialGradient id="gs18" cx="0.5" cy="0.5" r="0.5" fx="0.4777" fy="0.5136"><stop offset="0" stop-color="#f0ffec"/><stop offset="0.08" stop-color="#d4ffca"/><stop offset="0.20" stop-color="#8cf07a"/><stop offset="0.32" stop-color="#50c042"/><stop offset="0.46" stop-color="#36a82c"/><stop offset="0.60" stop-color="#2e9c25"/><stop offset="0.80" stop-color="#298f22"/><stop offset="0.93" stop-color="#22781d"/><stop offset="1" stop-color="#1c6718"/></radialGradient></defs>
<circle cx="977.0" cy="267.4" r="32.9" fill="url(#gb4)"/>
<circle cx="1078.0" cy="265.2" r="32.9" fill="url(#gb4)"/>
<circle cx="1179.0" cy="263.8" r="32.9" fill="url(#gb4)"/>
<circle cx="1279.8" cy="261.4" r="32.9" fill="url(#gb4)"/>
<circle cx="875.4" cy="269.5" r="33.5" fill="url(#gb3)"/>
<circle cx="939.8" cy="267.7" r="32.4" fill="url(#gb3)"/>
<circle cx="964.8" cy="271.7" r="33.5" fill="url(#gb3)"/>
<circle cx="1040.8" cy="265.5" r="32.4" fill="url(#gb3)"/>
<circle cx="1065.8" cy="269.5" r="33.5" fill="url(#gb3)"/>
<circle cx="1141.8" cy="264.1" r="32.4" fill="url(#gb3)"/>
<circle cx="1166.8" cy="268.1" r="33.5" fill="url(#gb3)"/>
<circle cx="1242.5" cy="261.7" r="32.4" fill="url(#gb3)"/>
<circle cx="1267.5" cy="265.7" r="33.5" fill="url(#gb3)"/>
<circle cx="863.1" cy="273.8" r="34.0" fill="url(#gb2)"/>
<circle cx="927.5" cy="272.0" r="32.9" fill="url(#gb2)"/>
<circle cx="952.5" cy="276.0" r="34.0" fill="url(#gb2)"/>
<circle cx="1028.5" cy="269.8" r="32.9" fill="url(#gb2)"/>
<circle cx="1053.5" cy="273.8" r="34.0" fill="url(#gb2)"/>
<circle cx="1129.5" cy="268.4" r="32.9" fill="url(#gb2)"/>
<circle cx="1154.5" cy="272.4" r="34.0" fill="url(#gb2)"/>
<circle cx="1230.3" cy="266.0" r="32.9" fill="url(#gb2)"/>
<circle cx="1255.3" cy="270.0" r="34.0" fill="url(#gb2)"/>
<circle cx="850.9" cy="278.1" r="34.6" fill="url(#gb1)"/>
<circle cx="915.2" cy="276.3" r="33.5" fill="url(#gb1)"/>
<circle cx="940.2" cy="280.3" r="34.6" fill="url(#gb1)"/>
<circle cx="1016.2" cy="274.1" r="33.5" fill="url(#gb1)"/>
<circle cx="1041.2" cy="278.1" r="34.6" fill="url(#gb1)"/>
<circle cx="1117.2" cy="272.7" r="33.5" fill="url(#gb1)"/>
<circle cx="1142.2" cy="276.7" r="34.6" fill="url(#gb1)"/>
<circle cx="1218.0" cy="270.3" r="33.5" fill="url(#gb1)"/>
<circle cx="1243.0" cy="274.3" r="34.6" fill="url(#gb1)"/>
<circle cx="838.6" cy="282.4" r="35.1" fill="url(#gs10)"/>
<circle cx="903.0" cy="280.6" r="34.0" fill="url(#gs11)"/>
<circle cx="928.0" cy="284.6" r="35.1" fill="url(#gs12)"/>
<circle cx="1004.0" cy="278.4" r="34.0" fill="url(#gs13)"/>
<circle cx="1029.0" cy="282.4" r="35.1" fill="url(#gs14)"/>
<circle cx="1105.0" cy="277.0" r="34.0" fill="url(#gs15)"/>
<circle cx="1130.0" cy="281.0" r="35.1" fill="url(#gs16)"/>
<circle cx="1205.8" cy="274.6" r="34.0" fill="url(#gs17)"/>
<circle cx="1230.8" cy="278.6" r="35.1" fill="url(#gs18)"/>
</g>
<g id="flames" fill="url(#gflame)" stroke="#ff7a10" stroke-width="0.8" stroke-linejoin="round">
<g transform="translate(828.5,362.0)"><path d="M0.5,-51.6 L23.75,-27.8 L13.5,-24.5 C13.5,-23.4 13.9,-20.4 13.6,-18.0 C13.3,-15.6 12.7,-12.7 11.5,-10.0 C10.3,-7.3 8.2,-4.7 6.5,-2.0 C4.8,0.7 2.5,3.5 1.0,6.0 C-0.4,8.5 -1.6,10.7 -2.2,13.0 C-2.8,15.3 -2.5,18.7 -2.6,19.8 L5.4,18.2 L-0.5,51.6 L-23.75,27.8 L-13.5,24.5 C-13.5,23.4 -13.9,20.4 -13.6,18.0 C-13.3,15.6 -12.7,12.7 -11.5,10.0 C-10.3,7.3 -8.2,4.7 -6.5,2.0 C-4.8,-0.7 -2.5,-3.5 -1.0,-6.0 C0.4,-8.5 1.6,-10.7 2.2,-13.0 C2.8,-15.3 2.5,-18.7 2.6,-19.8 L-5.4,-18.2 Z"/></g>
<g transform="translate(908.5,363.3)"><path d="M0.5,-51.6 L23.75,-27.8 L13.5,-24.5 C13.5,-23.4 13.9,-20.4 13.6,-18.0 C13.3,-15.6 12.7,-12.7 11.5,-10.0 C10.3,-7.3 8.2,-4.7 6.5,-2.0 C4.8,0.7 2.5,3.5 1.0,6.0 C-0.4,8.5 -1.6,10.7 -2.2,13.0 C-2.8,15.3 -2.5,18.7 -2.6,19.8 L5.4,18.2 L-0.5,51.6 L-23.75,27.8 L-13.5,24.5 C-13.5,23.4 -13.9,20.4 -13.6,18.0 C-13.3,15.6 -12.7,12.7 -11.5,10.0 C-10.3,7.3 -8.2,4.7 -6.5,2.0 C-4.8,-0.7 -2.5,-3.5 -1.0,-6.0 C0.4,-8.5 1.6,-10.7 2.2,-13.0 C2.8,-15.3 2.5,-18.7 2.6,-19.8 L-5.4,-18.2 Z"/></g>
<g transform="translate(986.4,360.3)"><path d="M0.5,-51.6 L23.75,-27.8 L13.5,-24.5 C13.5,-23.4 13.9,-20.4 13.6,-18.0 C13.3,-15.6 12.7,-12.7 11.5,-10.0 C10.3,-7.3 8.2,-4.7 6.5,-2.0 C4.8,0.7 2.5,3.5 1.0,6.0 C-0.4,8.5 -1.6,10.7 -2.2,13.0 C-2.8,15.3 -2.5,18.7 -2.6,19.8 L5.4,18.2 L-0.5,51.6 L-23.75,27.8 L-13.5,24.5 C-13.5,23.4 -13.9,20.4 -13.6,18.0 C-13.3,15.6 -12.7,12.7 -11.5,10.0 C-10.3,7.3 -8.2,4.7 -6.5,2.0 C-4.8,-0.7 -2.5,-3.5 -1.0,-6.0 C0.4,-8.5 1.6,-10.7 2.2,-13.0 C2.8,-15.3 2.5,-18.7 2.6,-19.8 L-5.4,-18.2 Z"/></g>
<g transform="translate(1057.6,360.0)"><path d="M0.5,-51.6 L23.75,-27.8 L13.5,-24.5 C13.5,-23.4 13.9,-20.4 13.6,-18.0 C13.3,-15.6 12.7,-12.7 11.5,-10.0 C10.3,-7.3 8.2,-4.7 6.5,-2.0 C4.8,0.7 2.5,3.5 1.0,6.0 C-0.4,8.5 -1.6,10.7 -2.2,13.0 C-2.8,15.3 -2.5,18.7 -2.6,19.8 L5.4,18.2 L-0.5,51.6 L-23.75,27.8 L-13.5,24.5 C-13.5,23.4 -13.9,20.4 -13.6,18.0 C-13.3,15.6 -12.7,12.7 -11.5,10.0 C-10.3,7.3 -8.2,4.7 -6.5,2.0 C-4.8,-0.7 -2.5,-3.5 -1.0,-6.0 C0.4,-8.5 1.6,-10.7 2.2,-13.0 C2.8,-15.3 2.5,-18.7 2.6,-19.8 L-5.4,-18.2 Z"/></g>
<g transform="translate(1125.8,363.5)"><path d="M0.5,-51.6 L23.75,-27.8 L13.5,-24.5 C13.5,-23.4 13.9,-20.4 13.6,-18.0 C13.3,-15.6 12.7,-12.7 11.5,-10.0 C10.3,-7.3 8.2,-4.7 6.5,-2.0 C4.8,0.7 2.5,3.5 1.0,6.0 C-0.4,8.5 -1.6,10.7 -2.2,13.0 C-2.8,15.3 -2.5,18.7 -2.6,19.8 L5.4,18.2 L-0.5,51.6 L-23.75,27.8 L-13.5,24.5 C-13.5,23.4 -13.9,20.4 -13.6,18.0 C-13.3,15.6 -12.7,12.7 -11.5,10.0 C-10.3,7.3 -8.2,4.7 -6.5,2.0 C-4.8,-0.7 -2.5,-3.5 -1.0,-6.0 C0.4,-8.5 1.6,-10.7 2.2,-13.0 C2.8,-15.3 2.5,-18.7 2.6,-19.8 L-5.4,-18.2 Z"/></g>
<g transform="translate(1196.7,359.0)"><path d="M0.5,-51.6 L23.75,-27.8 L13.5,-24.5 C13.5,-23.4 13.9,-20.4 13.6,-18.0 C13.3,-15.6 12.7,-12.7 11.5,-10.0 C10.3,-7.3 8.2,-4.7 6.5,-2.0 C4.8,0.7 2.5,3.5 1.0,6.0 C-0.4,8.5 -1.6,10.7 -2.2,13.0 C-2.8,15.3 -2.5,18.7 -2.6,19.8 L5.4,18.2 L-0.5,51.6 L-23.75,27.8 L-13.5,24.5 C-13.5,23.4 -13.9,20.4 -13.6,18.0 C-13.3,15.6 -12.7,12.7 -11.5,10.0 C-10.3,7.3 -8.2,4.7 -6.5,2.0 C-4.8,-0.7 -2.5,-3.5 -1.0,-6.0 C0.4,-8.5 1.6,-10.7 2.2,-13.0 C2.8,-15.3 2.5,-18.7 2.6,-19.8 L-5.4,-18.2 Z"/></g>
<g transform="translate(1261.8,349.0)"><path d="M0.5,-51.6 L23.75,-27.8 L13.5,-24.5 C13.5,-23.4 13.9,-20.4 13.6,-18.0 C13.3,-15.6 12.7,-12.7 11.5,-10.0 C10.3,-7.3 8.2,-4.7 6.5,-2.0 C4.8,0.7 2.5,3.5 1.0,6.0 C-0.4,8.5 -1.6,10.7 -2.2,13.0 C-2.8,15.3 -2.5,18.7 -2.6,19.8 L5.4,18.2 L-0.5,51.6 L-23.75,27.8 L-13.5,24.5 C-13.5,23.4 -13.9,20.4 -13.6,18.0 C-13.3,15.6 -12.7,12.7 -11.5,10.0 C-10.3,7.3 -8.2,4.7 -6.5,2.0 C-4.8,-0.7 -2.5,-3.5 -1.0,-6.0 C0.4,-8.5 1.6,-10.7 2.2,-13.0 C2.8,-15.3 2.5,-18.7 2.6,-19.8 L-5.4,-18.2 Z"/></g>
</g>
<g id="eq">
<text class="i" x="889" y="120.7" font-size="71">v</text>
<text class="i" x="921.5" y="140.2" font-size="41">n</text>
<text class="b" x="943.4" y="140.0" font-size="41">k</text>
<rect x="994.8" y="92.9" width="38.4" height="3" fill="#000"/><rect x="994.8" y="106.5" width="38.4" height="3" fill="#000"/>
<text stroke="#000" stroke-width="0.9" class="" transform="translate(1061.61,72.80) scale(0.7160,1.0000)" font-size="73.00">1</text>
<rect x="1051.2" y="100.2" width="48" height="3.2" rx="1.2" fill="#000"/>
<text class="i" x="1058" y="178" font-size="71" stroke="#000" stroke-width="0.7">ħ</text>
<path fill-rule="evenodd" d="M1112,71.5 L1157,71.5 L1135.2,119.9 L1133.2,119.9 Z M1120.5,75 L1152.5,75 L1137.6,108 Z" fill="#000"/>
<text class="b" x="1163.8" y="139.4" font-size="41">k</text>
<text class="i" x="1193" y="120.4" font-size="71" textLength="37" lengthAdjust="spacingAndGlyphs" stroke="#000" stroke-width="0.6">ε</text>
<text class="i" x="1228.8" y="140.2" font-size="41">n</text>
<text class="b" x="1250.7" y="139.4" font-size="41">k</text>
</g>
<g id="c1">
<clipPath id="clipc1"><rect x="373.2" y="650.0" width="429.6" height="329.8"/></clipPath>
<rect x="372.6" y="650.0" width="429.9" height="329.5" fill="none" stroke="#000" stroke-width="4.2"/>
<line x1="372.6" y1="760.0" x2="378.6" y2="760.0" stroke="#000" stroke-width="3.4" stroke-linecap="round"/>
<line x1="372.6" y1="870.0" x2="378.6" y2="870.0" stroke="#000" stroke-width="3.4" stroke-linecap="round"/>
<line x1="372.6" y1="705.0" x2="376.1" y2="705.0" stroke="#000" stroke-width="3" stroke-linecap="round"/>
<line x1="372.6" y1="815.0" x2="376.1" y2="815.0" stroke="#000" stroke-width="3" stroke-linecap="round"/>
<line x1="372.6" y1="925.0" x2="376.1" y2="925.0" stroke="#000" stroke-width="3" stroke-linecap="round"/>
<g clip-path="url(#clipc1)">
<path d="M370.5,964.8 C372.0,964.8 376.7,964.8 379.7,964.8 C382.8,964.7 385.9,964.7 389.0,964.7 C392.0,964.6 395.1,964.6 398.2,964.5 C401.3,964.4 404.4,964.3 407.4,964.3 C410.5,964.2 413.6,964.1 416.7,964.0 C419.7,963.9 422.8,963.7 425.9,963.6 C429.0,963.5 432.1,963.3 435.1,963.2 C438.2,963.0 441.3,962.8 444.4,962.7 C447.5,962.5 450.5,962.3 453.6,962.1 C456.7,961.9 459.8,961.7 462.8,961.4 C465.9,961.2 469.0,961.0 472.1,960.7 C475.2,960.4 478.2,960.2 481.3,959.9 C484.4,959.6 487.5,959.3 490.5,959.0 C493.6,958.6 496.7,958.3 499.8,957.9 C502.9,957.6 505.9,957.2 509.0,956.8 C512.1,956.4 515.2,956.0 518.2,955.5 C521.3,955.1 524.4,954.6 527.5,954.2 C530.6,953.7 533.6,953.2 536.7,952.6 C539.8,952.1 542.9,951.6 545.9,951.0 C549.0,950.4 552.1,949.8 555.2,949.1 C558.3,948.5 561.3,947.8 564.4,947.1 C567.5,946.4 570.6,945.7 573.6,944.9 C576.7,944.1 579.8,943.3 582.9,942.5 C586.0,941.6 589.0,940.8 592.1,939.8 C595.2,938.9 598.3,937.9 601.4,936.9 C604.4,935.9 607.5,934.9 610.6,933.8 C613.7,932.7 616.7,931.5 619.8,930.3 C622.9,929.1 626.0,927.8 629.1,926.5 C632.1,925.2 635.2,923.8 638.3,922.4 C641.4,920.9 644.4,919.4 647.5,917.8 C650.6,916.3 653.7,914.6 656.8,912.9 C659.8,911.2 662.9,909.4 666.0,907.6 C669.1,905.7 672.1,903.7 675.2,901.7 C678.3,899.7 681.4,897.6 684.5,895.4 C687.5,893.1 690.6,890.8 693.7,888.4 C696.8,886.0 699.8,883.5 702.9,880.9 C706.0,878.3 709.1,875.6 712.2,872.8 C715.2,870.0 718.3,867.0 721.4,864.0 C724.5,860.9 727.5,857.7 730.6,854.4 C733.7,851.1 736.8,847.7 739.9,844.1 C742.9,840.5 746.0,836.8 749.1,832.9 C752.2,829.1 755.3,825.1 758.3,820.9 C761.4,816.8 764.5,812.4 767.6,808.0 C770.6,803.5 773.7,798.9 776.8,794.0 C779.9,789.2 783.0,784.3 786.0,779.1 C789.1,773.9 792.2,768.6 795.3,763.1 C798.3,757.6 803.0,748.8 804.5,746.0 L804.5,985.5 L370.5,985.5 Z" fill="#fdb8fb" stroke="#fb4df6" stroke-width="4.4" stroke-linejoin="round"/>
<path d="M370.5,975.4 C372.0,975.5 376.7,975.7 379.7,975.8 C382.8,976.0 385.9,976.0 389.0,976.1 C392.0,976.1 395.1,976.1 398.2,976.1 C401.3,976.1 404.4,976.1 407.4,976.1 C410.5,976.0 413.6,975.9 416.7,975.9 C419.7,975.8 422.8,975.7 425.9,975.5 C429.0,975.4 432.1,975.3 435.1,975.1 C438.2,975.0 441.3,974.8 444.4,974.7 C447.5,974.5 450.5,974.3 453.6,974.1 C456.7,973.9 459.8,973.7 462.8,973.5 C465.9,973.3 469.0,973.1 472.1,972.9 C475.2,972.6 478.2,972.4 481.3,972.1 C484.4,971.9 487.5,971.6 490.5,971.3 C493.6,971.1 496.7,970.8 499.8,970.5 C502.9,970.2 505.9,969.9 509.0,969.6 C512.1,969.3 515.2,968.9 518.2,968.6 C521.3,968.3 524.4,967.9 527.5,967.5 C530.6,967.2 533.6,966.8 536.7,966.4 C539.8,966.0 542.9,965.6 545.9,965.1 C549.0,964.7 552.1,964.3 555.2,963.8 C558.3,963.3 561.3,962.8 564.4,962.3 C567.5,961.8 570.6,961.3 573.6,960.7 C576.7,960.2 579.8,959.6 582.9,959.0 C586.0,958.4 589.0,957.7 592.1,957.1 C595.2,956.4 598.3,955.7 601.4,955.0 C604.4,954.3 607.5,953.6 610.6,952.8 C613.7,952.0 616.7,951.2 619.8,950.4 C622.9,949.5 626.0,948.7 629.1,947.8 C632.1,946.9 635.2,945.9 638.3,944.9 C641.4,944.0 644.4,943.0 647.5,941.9 C650.6,940.9 653.7,939.8 656.8,938.7 C659.8,937.5 662.9,936.4 666.0,935.2 C669.1,934.0 672.1,932.8 675.2,931.5 C678.3,930.2 681.4,928.9 684.5,927.5 C687.5,926.2 690.6,924.8 693.7,923.4 C696.8,921.9 699.8,920.5 702.9,919.0 C706.0,917.5 709.1,915.9 712.2,914.3 C715.2,912.7 718.3,911.1 721.4,909.5 C724.5,907.8 727.5,906.1 730.6,904.4 C733.7,902.7 736.8,900.9 739.9,899.1 C742.9,897.3 746.0,895.5 749.1,893.7 C752.2,891.8 755.3,889.9 758.3,888.0 C761.4,886.1 764.5,884.2 767.6,882.3 C770.6,880.3 773.7,878.3 776.8,876.4 C779.9,874.4 783.0,872.4 786.0,870.3 C789.1,868.3 792.2,866.3 795.3,864.3 C798.3,862.3 803.0,859.2 804.5,858.2 L804.5,985.5 L370.5,985.5 Z" fill="#aee5fc" stroke="#2ab5f5" stroke-width="5.0" stroke-linejoin="round"/>
</g>
<rect x="370.5" y="979.2" width="434.1" height="2.4" fill="#000"/>
<rect x="511.4" y="655.3" width="63.6" height="48.3" fill="#aee5fc" stroke="#7c98a4" stroke-width="0.9"/>
<rect x="511.4" y="709.1" width="63.6" height="48.3" fill="#fdb8fb" stroke="#b898ba" stroke-width="0.9"/>
<text class="b" transform="translate(586.42,695.20) scale(1.0165,1.0000)" font-size="43.40">monolayer</text>
<text class="b" transform="translate(587.04,748.80) scale(1.0152,1.0000)" font-size="43.40">bilayer</text>
</g>
<text class="b" transform="translate(343.87,663.30) scale(1.0246,1.0000)" font-size="43.60">6</text>
<text class="b" transform="translate(343.82,772.90) scale(0.9708,1.0000)" font-size="43.60">4</text>
<text class="b" transform="translate(343.23,882.30) scale(1.0223,1.0000)" font-size="43.60">2</text>
<text class="b" transform="translate(343.42,992.40) scale(1.0120,1.0000)" font-size="43.60">0</text>
<text class="b" transform="translate(359.41,1024.90) scale(1.0000,1.0000)" font-size="44.50">0.5</text>
<text class="b" transform="translate(425.22,1024.90) scale(0.9766,1.0000)" font-size="44.50">1</text>
<text class="b" transform="translate(569.87,1024.90) scale(1.0298,1.0000)" font-size="44.50">5</text>
<text class="b" transform="translate(636.04,1024.90) scale(1.0270,1.0000)" font-size="44.50">10</text>
<text class="b" transform="translate(758.11,1024.90) scale(1.0067,1.0000)" font-size="44.50">50</text>
<text class="b i" transform="translate(417.35,1092.00) scale(1.0703,1.0000)" font-size="57.00">n</text>
<text class="b" transform="translate(465.13,1091.60) scale(1.0619,1.0000)" font-size="57.20">(</text>
<text class="b" transform="translate(484.08,1092.00) scale(1.0382,1.0000)" font-size="58.00">10</text>
<text class="b" transform="translate(544.74,1063.90) scale(0.8849,1.0000)" font-size="39.00">19</text>
<text class="b" transform="translate(594.04,1092.00) scale(0.9969,1.0000)" font-size="57.50">cm</text>
<text class="b" transform="translate(667.47,1064.50) scale(1.1782,1.0000)" font-size="31.00">−3</text>
<text class="b" transform="translate(704.04,1091.60) scale(1.1163,1.0000)" font-size="57.20">)</text>
<text stroke="#000" stroke-width="1.5" class="i" transform="translate(322.80,931.60) rotate(-90) scale(1.2859,1)" font-size="60.00">σ</text>
<text class="b" transform="translate(321.70,887.18) rotate(-90) scale(1.1823,1)" font-size="57.30">(</text>
<text class="b" transform="translate(322.50,867.52) rotate(-90) scale(1.0141,1)" font-size="52.00">10</text>
<text class="b" transform="translate(294.20,814.77) rotate(-90) scale(1.3695,1)" font-size="39.50">5</text>
<text class="b" transform="translate(322.50,774.50) rotate(-90) scale(0.9049,1)" font-size="54.00">S</text>
<text class="b" transform="translate(321.20,744.54) rotate(-90) scale(0.8953,1)" font-size="52.50">/</text>
<text class="b" transform="translate(322.40,728.84) rotate(-90) scale(0.9913,1)" font-size="50.50">m</text>
<text class="b" transform="translate(321.20,688.16) rotate(-90) scale(1.1342,1)" font-size="56.30">)</text>
<g id="c2">
<clipPath id="clipc2"><rect x="1227.4" y="657.0" width="425.4" height="324.3"/></clipPath>
<rect x="1228.6" y="657.0" width="423.9" height="324.0" fill="none" stroke="#000" stroke-width="4.2"/>
<line x1="1228.6" y1="764.7" x2="1234.6" y2="764.7" stroke="#000" stroke-width="3.4" stroke-linecap="round"/>
<line x1="1228.6" y1="872.3" x2="1234.6" y2="872.3" stroke="#000" stroke-width="3.4" stroke-linecap="round"/>
<g clip-path="url(#clipc2)">
<path d="M1229.6,710.4 C1234.7,713.0 1248.3,719.7 1260.0,725.6 C1271.7,731.5 1286.7,739.0 1300.0,745.8 C1313.3,752.5 1326.7,759.2 1340.0,766.0 C1353.3,772.7 1366.7,779.5 1380.0,786.2 C1393.3,793.0 1406.7,799.7 1420.0,806.4 C1433.3,813.1 1446.7,819.8 1460.0,826.5 C1473.3,833.1 1486.7,839.8 1500.0,846.4 C1513.3,852.9 1526.7,859.5 1540.0,866.0 C1553.3,872.4 1566.7,878.9 1580.0,885.2 C1593.3,891.6 1608.1,898.5 1620.0,904.1 C1631.9,909.6 1646.2,916.1 1651.5,918.6 L1651.5,987.0 L1229.6,987.0 Z" fill="#fdb8fb" stroke="#fb4df6" stroke-width="4.4" stroke-linejoin="round"/>
<path d="M1229.6,769.6 C1234.7,772.1 1248.3,778.4 1260.0,784.1 C1271.7,789.7 1286.7,797.0 1300.0,803.6 C1313.3,810.1 1326.7,816.8 1340.0,823.4 C1353.3,830.0 1366.7,836.7 1380.0,843.2 C1393.3,849.7 1406.7,856.3 1420.0,862.6 C1433.3,869.0 1446.7,875.3 1460.0,881.4 C1473.3,887.5 1486.7,893.5 1500.0,899.2 C1513.3,904.9 1526.7,910.5 1540.0,915.7 C1553.3,920.9 1566.7,925.9 1580.0,930.6 C1593.3,935.2 1608.1,939.9 1620.0,943.5 C1631.9,947.1 1646.2,950.6 1651.5,952.1 L1651.5,987.0 L1229.6,987.0 Z" fill="#aee5fc" stroke="#2ab5f5" stroke-width="5.0" stroke-linejoin="round"/>
</g>
<rect x="1226.5" y="980.7" width="428.1" height="2.4" fill="#000"/>
<rect x="1365.2" y="661.4" width="62.6" height="48.0" fill="#aee5fc" stroke="#7c98a4" stroke-width="0.9"/>
<rect x="1365.2" y="714.5" width="62.6" height="48.0" fill="#fdb8fb" stroke="#b898ba" stroke-width="0.9"/>
<text class="b" transform="translate(1439.53,700.90) scale(1.0037,1.0000)" font-size="43.40">monolayer</text>
<text class="b" transform="translate(1440.15,754.10) scale(0.9962,1.0000)" font-size="43.40">bilayer</text>
</g>
<text class="b" transform="translate(1156.22,669.80) scale(0.9944,1.0000)" font-size="43.60">600</text>
<text class="b" transform="translate(1156.61,777.60) scale(0.9882,1.0000)" font-size="43.60">400</text>
<text class="b" transform="translate(1155.03,886.00) scale(1.0241,1.0000)" font-size="43.60">200</text>
<text class="b" transform="translate(1199.57,994.30) scale(1.0147,1.0000)" font-size="43.60">0</text>
<text class="b" transform="translate(1215.22,1025.60) scale(0.9923,1.0000)" font-size="44.50">0.5</text>
<text class="b" transform="translate(1280.15,1025.60) scale(0.9949,1.0000)" font-size="44.50">1</text>
<text class="b" transform="translate(1422.76,1025.60) scale(1.0351,1.0000)" font-size="44.50">5</text>
<text class="b" transform="translate(1488.15,1025.60) scale(0.9964,1.0000)" font-size="44.50">10</text>
<text class="b" transform="translate(1609.60,1025.60) scale(1.0116,1.0000)" font-size="44.50">50</text>
<text class="b i" transform="translate(1271.78,1092.30) scale(1.0415,1.0000)" font-size="57.00">n</text>
<text class="b" transform="translate(1319.57,1091.90) scale(1.0653,1.0000)" font-size="57.20">(</text>
<text class="b" transform="translate(1338.54,1092.30) scale(1.0245,1.0000)" font-size="58.00">10</text>
<text class="b" transform="translate(1397.65,1064.20) scale(0.8820,1.0000)" font-size="39.00">19</text>
<text class="b" transform="translate(1446.86,1092.30) scale(0.9862,1.0000)" font-size="57.50">cm</text>
<text class="b" transform="translate(1519.62,1064.80) scale(1.1519,1.0000)" font-size="31.00">−3</text>
<text class="b" transform="translate(1556.14,1091.90) scale(1.1163,1.0000)" font-size="57.20">)</text>
<text class="b" transform="translate(1137.20,1013.49) rotate(-90) scale(0.9911,1)" font-size="58.50">Seebeck</text>
<text class="b" transform="translate(1136.20,798.55) rotate(-90) scale(1.3140,1)" font-size="56.30">(</text>
<text class="" transform="translate(1136.60,779.77) rotate(-90) scale(1.1105,1)" font-size="58.50">μ</text>
<text class="b" transform="translate(1137.00,746.56) rotate(-90) scale(0.9824,1)" font-size="59.50">V</text>
<text class="b" transform="translate(1137.00,704.46) rotate(-90) scale(0.9412,1)" font-size="58.50">/</text>
<text class="b" transform="translate(1136.40,688.65) rotate(-90) scale(0.9308,1)" font-size="59.50">K</text>
<text class="b" transform="translate(1136.20,645.57) rotate(-90) scale(1.1964,1)" font-size="56.30">)</text>
</svg>
</body></html>
